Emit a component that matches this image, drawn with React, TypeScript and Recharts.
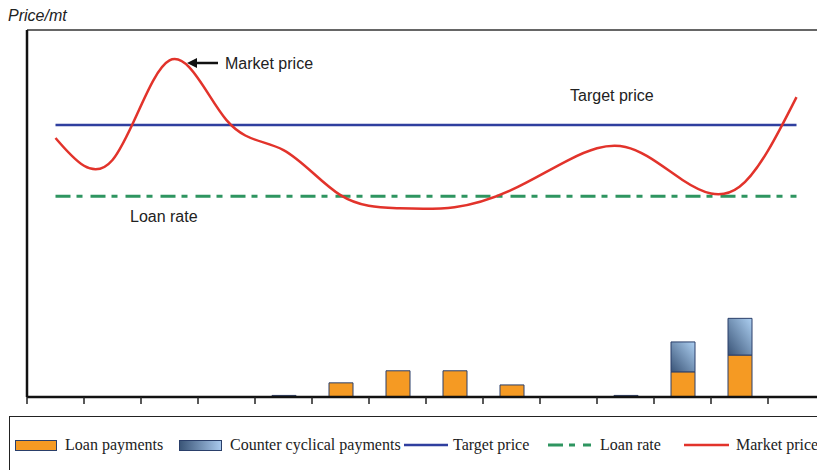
import { Bar, ComposedChart, Line, ReferenceLine, XAxis, YAxis } from "recharts";

// one slot per crop year (no labels on the original axis)
const periods = ["1", "2", "3", "4", "5", "6", "7", "8", "9", "10", "11", "12", "13", "14"];
const marketPrice = [4.94, 4.52, 6.42, 5.28, 4.71, 3.85, 3.6, 3.62, 3.95, 4.52, 4.77, 4.14, 4.01, 5.72];
const targetPrice = [5.19, 5.19, 5.19, 5.19, 5.19, 5.19, 5.19, 5.19, 5.19, 5.19, 5.19, 5.19, 5.19, 5.19];
const loanRate = [3.83, 3.83, 3.83, 3.83, 3.83, 3.83, 3.83, 3.83, 3.83, 3.83, 3.83, 3.83, 3.83, 3.83];
const loanPayments = [null, null, null, null, 0.03, 0.27, 0.5, 0.5, 0.23, null, 0.03, 0.48, 0.8, null];
const counterCyclical = [null, null, null, null, null, null, null, null, null, null, null, 0.57, 0.7, null];
const yTicks = [0, 1, 2, 3, 4, 5, 6, 7];

const data = periods.map((p, i) => ({
  period: p,
  market: marketPrice[i],
  target: targetPrice[i],
  loanRate: loanRate[i],
  loan: loanPayments[i],
  cc: counterCyclical[i],
}));

const LEFT = 27;
const PLOT_W = 798;
const HALF = PLOT_W / periods.length / 2;

const ORANGE = "#f59a23";
const EDGE = "#2a3f6a";
const RED = "#e2332b";
const BLUE = "#2f3f9f";
const GREEN = "#2e9560";

const BoundaryTick = (props: any) => {
  const { x, y } = props;
  return <line x1={x - HALF} x2={x - HALF} y1={y} y2={y + 7} stroke="#222" strokeWidth={1.5} />;
};

const sans = "'Liberation Sans', Arial, sans-serif";
const serif = "'Liberation Serif', 'Times New Roman', serif";

function Legend() {
  const text = { position: "absolute" as const, top: 436, fontFamily: serif, fontSize: 16, color: "#222", whiteSpace: "nowrap" as const };
  return (
    <div>
      <div style={{ position: "absolute", left: 9, top: 416, width: 900, height: 100, border: "1.5px solid #222" }} />
      <div style={{ position: "absolute", left: 15, top: 440, width: 40, height: 9, background: ORANGE, border: `1px solid ${EDGE}` }} />
      <div style={{ ...text, left: 65 }}>Loan payments</div>
      <div style={{ position: "absolute", left: 179, top: 440, width: 41, height: 9, background: "linear-gradient(90deg, #3b5678, #a8c8ec)", border: `1px solid ${EDGE}` }} />
      <div style={{ ...text, left: 230 }}>Counter cyclical payments</div>
      <svg style={{ position: "absolute", left: 0, top: 0 }} width={817} height={470}>
        <line x1={404} x2={448} y1={445} y2={445} stroke={BLUE} strokeWidth={2.5} />
        <line x1={548} x2={591} y1={445} y2={445} stroke={GREEN} strokeWidth={3} strokeDasharray="15 6 6 8" />
        <line x1={684} x2={729} y1={445} y2={445} stroke={RED} strokeWidth={2.5} />
      </svg>
      <div style={{ ...text, left: 453 }}>Target price</div>
      <div style={{ ...text, left: 600 }}>Loan rate</div>
      <div style={{ ...text, left: 736 }}>Market price</div>
    </div>
  );
}

export default function App() {
  return (
    <div style={{ position: "fixed", left: 0, top: 0, width: 817, height: 470, overflow: "hidden", background: "#fff" }}>
      <ComposedChart
        width={LEFT + PLOT_W + 15}
        height={470}
        data={data}
        margin={{ top: 30, right: 15, left: LEFT - 1, bottom: 72 }}
        barSize={24}
      >
        <defs>
          <linearGradient id="ccFill" x1="0" y1="1" x2="1" y2="0">
            <stop offset="0%" stopColor="#3a5477" />
            <stop offset="100%" stopColor="#add0f2" />
          </linearGradient>
        </defs>
        <XAxis
          dataKey="period"
          height={1}
          tickSize={0}
          tickMargin={0}
          tickLine={false}
          tick={<BoundaryTick />}
          axisLine={{ stroke: "#111", strokeWidth: 2.5 }}
          interval={0}
        />
        <YAxis
          width={1}
          domain={[0, 7]}
          ticks={yTicks}
          tick={false}
          tickSize={2}
          tickLine={{ stroke: "#aaa" }}
          axisLine={{ stroke: "#111", strokeWidth: 2.5 }}
        />
        <ReferenceLine y={7} stroke="#333" strokeWidth={1.5} />
        <Bar dataKey="loan" stackId="pay" fill={ORANGE} stroke={EDGE} strokeWidth={1} isAnimationActive={false} />
        <Bar dataKey="cc" stackId="pay" fill="url(#ccFill)" stroke={EDGE} strokeWidth={1} isAnimationActive={false} />
        <Line dataKey="target" stroke={BLUE} strokeWidth={2.5} dot={false} isAnimationActive={false} />
        <Line dataKey="loanRate" stroke={GREEN} strokeWidth={3} strokeDasharray="15 6 6 8" dot={false} isAnimationActive={false} />
        <Line type="natural" dataKey="market" stroke={RED} strokeWidth={2.5} dot={false} isAnimationActive={false} />
      </ComposedChart>
      <svg style={{ position: "absolute", left: 0, top: 0, pointerEvents: "none" }} width={817} height={470}>
        <text x={8} y={21} fontFamily={sans} fontStyle="italic" fontSize={16} fill="#222">Price/mt</text>
        <line x1={193} x2={218} y1={63} y2={63} stroke="#111" strokeWidth={2.5} />
        <polygon points="187,63 197,58 197,68" fill="#111" />
        <text x={225} y={69} fontFamily={sans} fontSize={16} fill="#222">Market price</text>
        <text x={570} y={101} fontFamily={sans} fontSize={16} fill="#222">Target price</text>
        <text x={130} y={222} fontFamily={sans} fontSize={16} fill="#222">Loan rate</text>
      </svg>
      <Legend />
    </div>
  );
}
